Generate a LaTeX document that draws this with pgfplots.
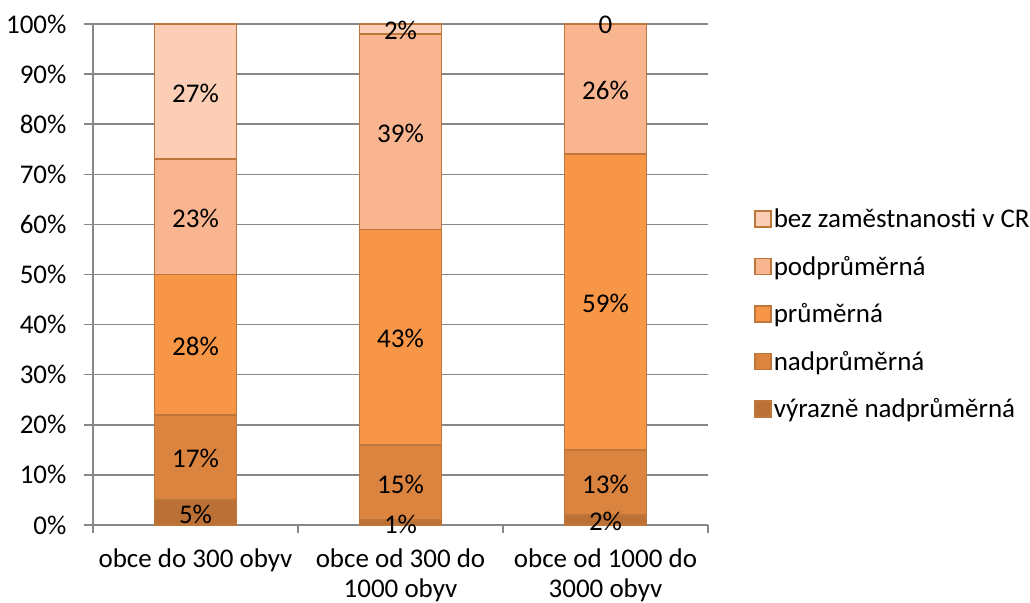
\documentclass[border=0pt]{standalone}
\usepackage{pgfplots}
\pgfplotsset{compat=1.18}
\usepackage{fontspec}
\setmainfont{Carlito}

\definecolor{vyrazne}{HTML}{BB7136}
\definecolor{nad}{HTML}{DB8440}
\definecolor{prum}{HTML}{F79646}
\definecolor{pod}{HTML}{F9B590}
\definecolor{bez}{HTML}{FBCEB5}
\definecolor{edge}{HTML}{BE763A}
\definecolor{axisgray}{HTML}{878787}

\newcommand{\chartfont}{\fontsize{27}{30}\selectfont}

\begin{document}
\begin{tikzpicture}[font=\chartfont]
% picture frame = 1030 x 602 px, plot area starts 93 px from left, 77 px from bottom
\useasboundingbox (-93pt,-77pt) rectangle (937pt,525pt);
\begin{axis}[
	scale only axis,
	width=615pt, height=501pt,
	ybar stacked, bar width=82pt,
	xmin=-0.5, xmax=2.5,
	ymin=0, ymax=100,
	xtick={0,1,2},
	xticklabels={obce do 300 obyv, {obce od 300 do\\1000 obyv}, {obce od 1000 do\\3000 obyv}},
	minor xtick={-0.5,0.5,1.5,2.5},
	ytick={0,10,...,100},
	yticklabels={0\%,10\%,20\%,30\%,40\%,50\%,60\%,70\%,80\%,90\%,100\%},
	/pgf/number format/assume math mode=true,
	tick label style={font=\chartfont},
	xticklabel style={align=center, yshift=-11pt},
	yticklabel style={xshift=-14pt},
	axis x line*=bottom, axis y line*=left,
	axis line style={axisgray, line width=1.5pt},
	tick align=outside,
	major tick length=9pt, minor tick length=8pt,
	tick style={axisgray, line width=1.5pt},
	major x tick style={draw=none},
	ymajorgrids,
	grid style={axisgray, line width=1.5pt},
	legend style={at={(1.07,0.421)}, anchor=west, draw=none, fill=none,
		font=\chartfont, row sep=23pt},
	legend cell align=left,
	reverse legend,
	legend image code/.code={\draw[#1, line width=1.5pt] (0pt,-8pt) rectangle (16pt,8pt);},
	every axis plot/.append style={draw=edge, line width=1.6pt},
]
\addplot[fill=vyrazne] coordinates {(0,5) (1,1) (2,2)};
\addplot[fill=nad] coordinates {(0,17) (1,15) (2,13)};
\addplot[fill=prum] coordinates {(0,28) (1,43) (2,59)};
\addplot[fill=pod] coordinates {(0,23) (1,39) (2,26)};
\addplot[fill=bez] coordinates {(0,27) (1,2) (2,0)};
\legend{výrazně nadprůměrná, nadprůměrná, průměrná, podprůměrná, bez zaměstnanosti v CR}
\end{axis}

% value labels, at the middle of each segment, on an overlaid axis of the same size
\begin{axis}[
	scale only axis,
	width=615pt, height=501pt,
	xmin=-0.5, xmax=2.5,
	ymin=0, ymax=100,
	hide axis, clip=false,
]
\addplot[only marks, mark=*, mark size=0pt,
	mark options={draw=none, fill=none},
	point meta=explicit symbolic, nodes near coords,
	nodes near coords style={anchor=center, font=\chartfont}]
	coordinates {
	(0,2.2) [5\%] (0,13.2) [17\%] (0,35.7) [28\%] (0,61.2) [23\%] (0,86.2) [27\%]
	(1,0.2) [1\%] (1,8.2) [15\%] (1,37.2) [43\%] (1,78.2) [39\%] (1,98.8) [2\%]
	(2,0.8) [2\%] (2,8.2) [13\%] (2,44.2) [59\%] (2,86.7) [26\%] (2,99.8) [0]
	};
\end{axis}
\end{tikzpicture}
\end{document}
